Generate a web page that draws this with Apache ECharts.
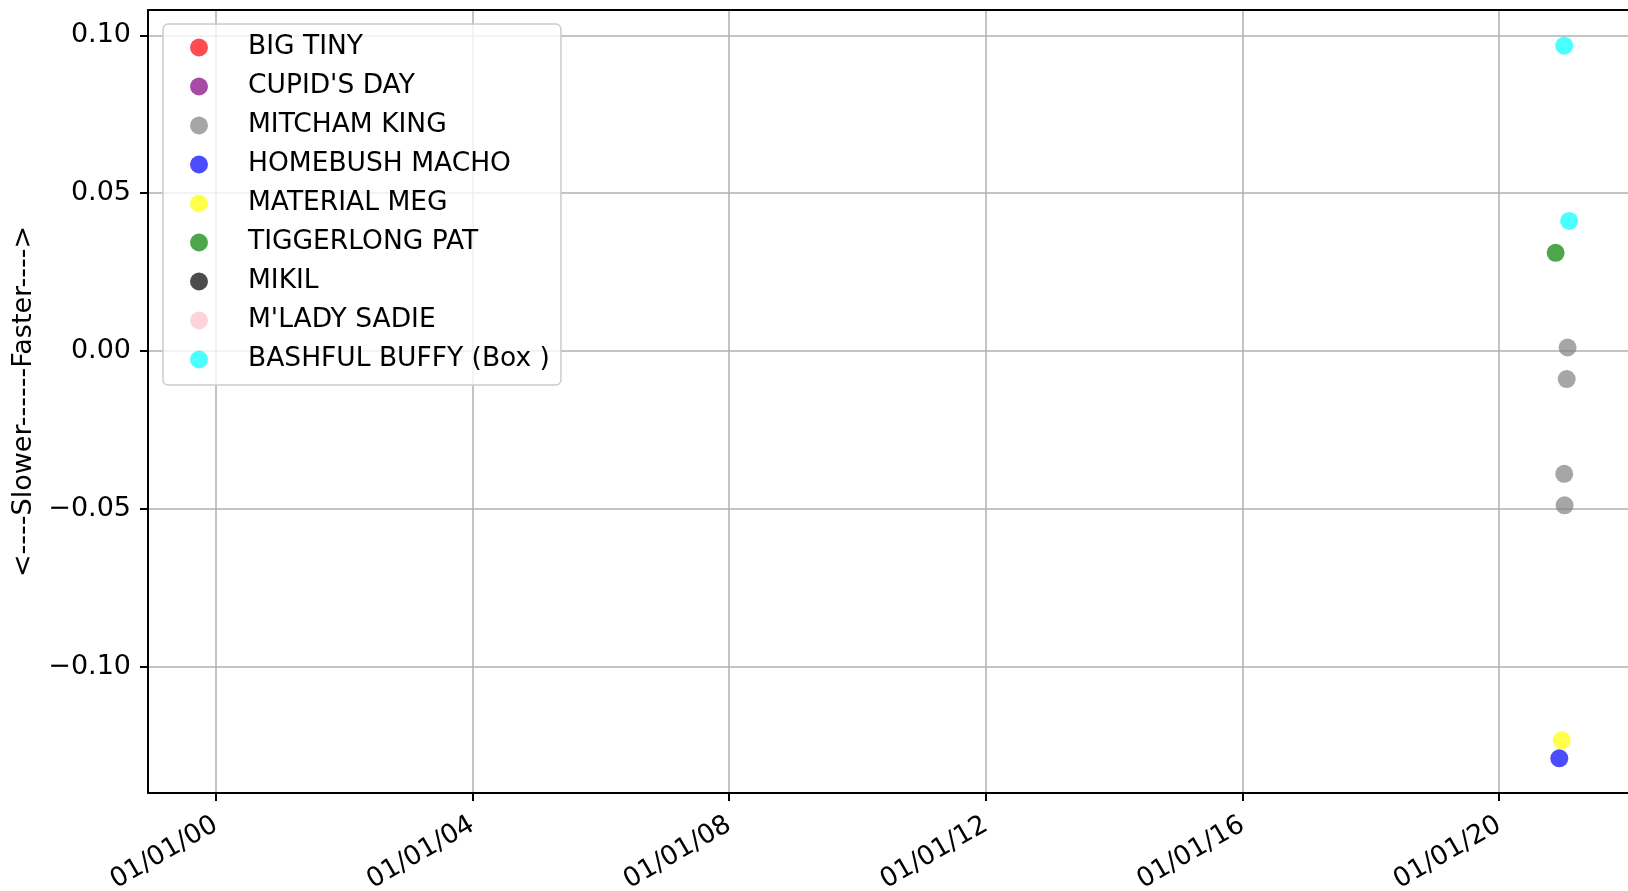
<!DOCTYPE html>
<html>
<head>
<meta charset="utf-8">
<script src="https://cdn.jsdelivr.net/npm/echarts@6/dist/echarts.min.js"></script>
<style>
  html, body { margin: 0; padding: 0; background: #fff; }
  #chart { width: 1628px; height: 891px; }
</style>
</head>
<body>
<div id="chart"></div>
<script>
// dogs, in legend order
var dogNames = ["BIG TINY", "CUPID'S DAY", "MITCHAM KING", "HOMEBUSH MACHO",
  "MATERIAL MEG", "TIGGERLONG PAT", "MIKIL", "M'LADY SADIE", "BASHFUL BUFFY (Box )"];

// race dates per dog (same order as dogNames)
var raceDates = [
  [],
  [],
  ["2021-01-24", "2021-01-19", "2021-01-05", "2021-01-07"],
  ["2020-12-08"],
  ["2020-12-22"],
  ["2020-11-17"],
  [],
  [],
  ["2021-01-05", "2021-02-02"]
];

// speed difference per race (+ faster / - slower)
var speedDiffs = [
  [],
  [],
  [0.0011, -0.0089, -0.0389, -0.0489],
  [-0.1290],
  [-0.1233],
  [0.0311],
  [],
  [],
  [0.0967, 0.0412]
];

var xTicks = ["2000-01-01", "2004-01-01", "2008-01-01", "2012-01-01", "2016-01-01", "2020-01-01"];
var yTicks = [-0.10, -0.05, 0.00, 0.05, 0.10];

var dogColors = ['rgba(255,0,0,0.7)', 'rgba(128,0,128,0.7)', 'rgba(128,128,128,0.7)',
  'rgba(0,0,255,0.7)', 'rgba(255,255,0,0.7)', 'rgba(0,128,0,0.7)',
  'rgba(0,0,0,0.7)', 'rgba(255,192,203,0.7)', 'rgba(0,255,255,0.7)'];

var font = 'DejaVu Sans';

function pad(n) { return (n < 10 ? '0' : '') + n; }
function ms(d) { return Date.parse(d); }

var xMin = ms('1998-12-11');
var xMax = ms('2022-01-03');

var series = dogNames.map(function (name, i) {
  return {
    name: name,
    type: 'scatter',
    symbol: 'circle',
    symbolSize: 18,
    itemStyle: { color: dogColors[i], opacity: 1 },
    emphasis: { disabled: true },
    data: raceDates[i].map(function (d, j) { return [ms(d), speedDiffs[i][j]]; })
  };
});

var myChart = echarts.init(document.getElementById('chart'));

var option = {
  animation: false,
  textStyle: { fontFamily: font },
  grid: {
    left: 148,
    top: 10,
    right: 0,
    bottom: 98,
    outerBoundsMode: 'none'
  },
  legend: {
    orient: 'vertical',
    left: 163,
    top: 24,
    padding: [10, 11, 12, 27],
    itemWidth: 18,
    itemHeight: 18,
    itemGap: 12,
    icon: 'circle',
    itemStyle: { opacity: 1 },
    backgroundColor: 'rgba(255,255,255,0.8)',
    borderColor: '#cccccc',
    borderWidth: 1.5,
    borderRadius: 5,
    textStyle: {
      fontFamily: font,
      fontSize: 26.5,
      lineHeight: 27,
      color: '#000',
      padding: [0, 0, 0, 35]
    },
    data: dogNames
  },
  xAxis: [{
    type: 'value',
    min: xMin,
    max: xMax,
    axisLine: { show: true, onZero: false, lineStyle: { color: '#000', width: 2 } },
    axisTick: { show: true, length: 8, lineStyle: { color: '#000', width: 2 }, customValues: xTicks.map(ms) },
    splitLine: { show: true, lineStyle: { color: '#b0b0b0', width: 1.5 } },
    axisLabel: {
      customValues: xTicks.map(ms),
      rotate: 30,
      margin: 30,
      fontFamily: font,
      fontSize: 26.5,
      color: '#000',
      formatter: function (v) {
        var d = new Date(v);
        return pad(d.getUTCMonth() + 1) + '/' + pad(d.getUTCDate()) + '/' + pad(d.getUTCFullYear() % 100);
      }
    }
  }, {
    // top spine only
    type: 'value',
    position: 'top',
    min: xMin,
    max: xMax,
    axisLine: { show: true, onZero: false, lineStyle: { color: '#000', width: 2 } },
    axisTick: { show: false },
    axisLabel: { show: false },
    splitLine: { show: false }
  }],
  yAxis: {
    type: 'value',
    min: -0.14,
    max: 0.108,
    name: '<----Slower------Faster---->',
    nameLocation: 'middle',
    nameRotate: 90,
    nameGap: 109,
    nameTextStyle: { fontFamily: font, fontSize: 27, color: '#000' },
    axisLine: { show: true, onZero: false, lineStyle: { color: '#000', width: 2 } },
    axisTick: { show: true, length: 8, lineStyle: { color: '#000', width: 2 }, customValues: yTicks },
    splitLine: { show: true, lineStyle: { color: '#b0b0b0', width: 1.5 } },
    axisLabel: {
      customValues: yTicks,
      margin: 17,
      fontFamily: font,
      fontSize: 27,
      color: '#000',
      formatter: function (v) {
        var s = Math.abs(v).toFixed(2);
        return (v < -1e-9 ? '\u2212' : '') + s;
      }
    }
  },
  series: series
};

myChart.setOption(option);
window.addEventListener("resize", function () {
  myChart.resize();
});
</script>
</body>
</html>
